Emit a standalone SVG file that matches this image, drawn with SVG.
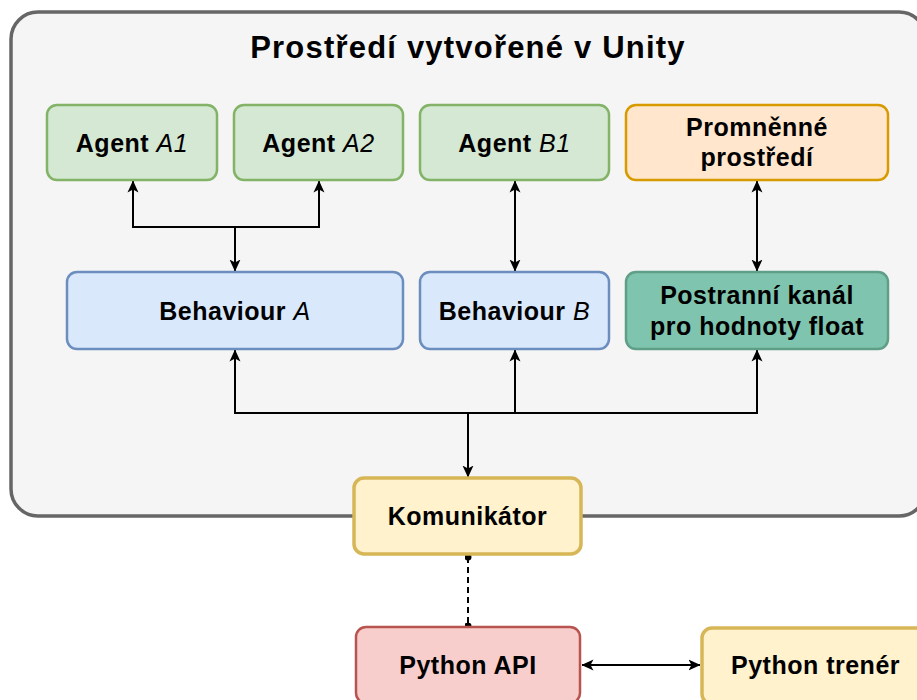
<svg xmlns="http://www.w3.org/2000/svg" width="917" height="700" viewBox="0 0 917 700">
<defs>
<marker id="arr" viewBox="0 0 12 12" refX="11.5" refY="6" markerWidth="12" markerHeight="12" markerUnits="userSpaceOnUse" orient="auto-start-reverse"><path d="M0,0.5 L12,6 L0,11.5 L3,6 z" fill="#000"/></marker>
<marker id="dot" viewBox="0 0 8 8" refX="4" refY="4" markerWidth="7" markerHeight="7" markerUnits="userSpaceOnUse"><circle cx="4" cy="4" r="4" fill="#000"/></marker>
<style>
.t{font-family:"Liberation Sans",Arial,sans-serif;font-weight:bold;font-size:25px;letter-spacing:0.5px;fill:#000;text-anchor:middle}
.i{font-style:italic;font-weight:normal}
.n{stroke-width:2.5}
.g{fill:#d5e8d4;stroke:#82b366}
.b{fill:#dae8fc;stroke:#6c8ebf}
.o{fill:#ffe6cc;stroke:#d79b00}
.k{fill:#7fc4ae;stroke:#5f9f88}
.y{fill:#fff2cc;stroke:#d6b656;stroke-width:3.5}
.r{fill:#f8cecc;stroke:#b85450}
.c{fill:none;stroke:#000;stroke-width:2}
</style>
</defs>
<rect width="917" height="700" fill="#fff"/>
<g id="container">
<rect x="11" y="12" width="915" height="504" rx="27" fill="#f5f5f5" stroke="#666" stroke-width="3.5"/>
<text class="t" x="468" y="58" style="font-size:31px;letter-spacing:1.2px">Prostředí vytvořené v Unity</text>
</g>
<g id="connectors">
<path class="c" d="M133,181 V227 H319 V181" marker-start="url(#arr)" marker-end="url(#arr)"/>
<path class="c" d="M235,227 V271" marker-end="url(#arr)"/>
<path class="c" d="M515,181 V271" marker-start="url(#arr)" marker-end="url(#arr)"/>
<path class="c" d="M757,181 V271" marker-start="url(#arr)" marker-end="url(#arr)"/>
<path class="c" d="M235,350 V413 H757 V350" marker-start="url(#arr)" marker-end="url(#arr)"/>
<path class="c" d="M515,413 V350" marker-end="url(#arr)"/>
<path class="c" d="M468,413 V477" marker-end="url(#arr)"/>
<path class="c" d="M468,557 V626" stroke-dasharray="6,4" marker-start="url(#dot)" marker-end="url(#dot)"/>
<path class="c" d="M582,665 H700" marker-start="url(#arr)" marker-end="url(#arr)"/>
</g>
<g id="agentA1"><rect class="n g" x="47" y="105" width="170" height="75" rx="10"/><text class="t" x="132" y="152">Agent <tspan class="i">A1</tspan></text></g>
<g id="agentA2"><rect class="n g" x="234" y="105" width="169" height="75" rx="10"/><text class="t" x="318.5" y="152">Agent <tspan class="i">A2</tspan></text></g>
<g id="agentB1"><rect class="n g" x="420" y="105" width="189" height="75" rx="10"/><text class="t" x="514.5" y="152">Agent <tspan class="i">B1</tspan></text></g>
<g id="promenne"><rect class="n o" x="626" y="105" width="262" height="75" rx="10"/><text class="t" x="757" y="136">Promněnné</text><text class="t" x="757" y="166">prostředí</text></g>
<g id="behaviourA"><rect class="n b" x="67" y="272" width="336" height="77" rx="10"/><text class="t" x="235" y="320">Behaviour <tspan class="i">A</tspan></text></g>
<g id="behaviourB"><rect class="n b" x="420" y="272" width="189" height="77" rx="10"/><text class="t" x="514.5" y="320">Behaviour <tspan class="i">B</tspan></text></g>
<g id="postranni"><rect class="n k" x="626" y="272" width="262" height="77" rx="10"/><text class="t" x="757" y="304">Postranní kanál</text><text class="t" x="757" y="335">pro hodnoty float</text></g>
<g id="komunikator"><rect class="y" x="354" y="478" width="227" height="76" rx="10"/><text class="t" x="467.5" y="525">Komunikátor</text></g>
<g id="pythonAPI"><rect class="n r" x="356" y="627" width="224" height="76" rx="10"/><text class="t" x="468" y="674">Python API</text></g>
<g id="pythonTrener"><rect class="y" x="702" y="628" width="227" height="76" rx="10"/><text class="t" x="815.5" y="674">Python trenér</text></g>
</svg>
